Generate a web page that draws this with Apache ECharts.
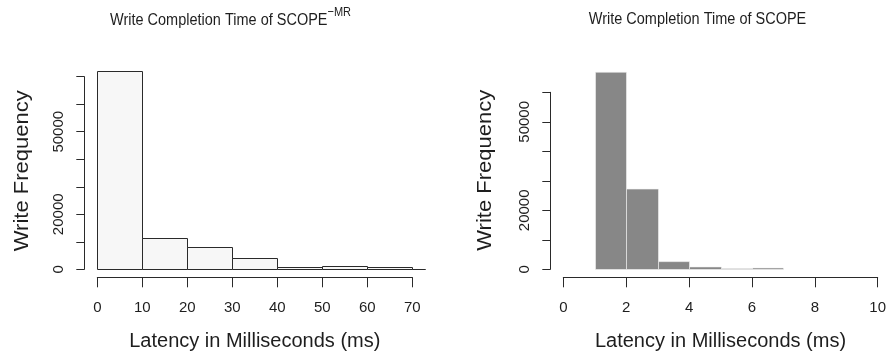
<!DOCTYPE html>
<html><head><meta charset="utf-8">
<script src="https://cdn.jsdelivr.net/npm/echarts@6/dist/echarts.min.js"></script>
<style>html,body{margin:0;padding:0;background:#fff}#c{width:889px;height:358px}</style>
</head><body><div id="c"></div>
<script>
// ---- data ----
const leftBinEdges = [0, 10, 20, 30, 40, 50, 60, 70, 80];
const leftCounts = [72000, 11500, 8000, 4200, 730, 1050, 1000, 30];
const rightBinEdges = [1, 2, 3, 4, 5, 6, 7];
const rightCounts = [66800, 27200, 2600, 800, 250, 450];
const leftXRange = [0, 70];
const leftYRange = [0, 70000];
const rightXRange = [0, 10];
const rightYRange = [0, 60000];
const leftYLabels = [0, 20000, 50000];
const rightYLabels = [0, 20000, 50000];
const leftTitle = 'Write Completion Time of SCOPE';
const leftTitleSup = '\u2212MR';
const rightTitle = 'Write Completion Time of SCOPE';
const xName = 'Latency in Milliseconds (ms)';
const yName = 'Write Frequency';

// ---- build ----
function bins(edges, counts) {
  return counts.map((c, i) => [edges[i], edges[i + 1], c]);
}
const FONT = '"Liberation Sans", Arial, Helvetica, sans-serif';
const TXT = '#1e1e1e';
const AX = '#2a2a2a';

function histItem(xlim, fill, stroke, lw, roundTop) {
  return function (params, api) {
    const x0 = api.value(0), x1 = api.value(1), v = api.value(2);
    const pad = (xlim[1] - xlim[0]) * 0.04;
    const p0 = api.coord([x0, 0]);
    const p1 = api.coord([x1, v]);
    const clipL = api.coord([xlim[0] - pad, 0])[0];
    const clipR = api.coord([xlim[1] + pad, 0])[0];
    let l = Math.max(p0[0], clipL), r = Math.min(p1[0], clipR);
    if (r <= l) return null;
    l = Math.round(l) + 0.5; r = Math.round(r) + 0.5;
    const b = Math.round(p0[1]) + 0.5;
    const t = roundTop ? Math.round(p1[1]) + 0.5 : p1[1];
    return {
      type: 'rect',
      shape: { x: l, y: t, width: r - l, height: b - t },
      style: { fill: fill, stroke: stroke, lineWidth: lw }
    };
  };
}

function xAxisCfg(idx, range, interval) {
  return {
    gridIndex: idx, type: 'value', min: range[0], max: range[1], interval: interval,
    offset: 8, splitLine: { show: false },
    axisLine: { show: true, onZero: false, lineStyle: { color: AX, width: 1 } },
    axisTick: { show: true, length: 10, lineStyle: { color: AX, width: 1 } },
    axisLabel: { show: true, fontSize: 15, color: TXT, margin: 23, fontFamily: FONT },
    name: xName, nameLocation: 'middle', nameGap: 54,
    nameTextStyle: { fontSize: 20, color: TXT, fontFamily: FONT }
  };
}
function yAxisCfg(idx, range, labels) {
  return {
    gridIndex: idx, type: 'value', min: range[0], max: range[1], interval: 10000,
    offset: 13, splitLine: { show: false },
    axisLine: { show: true, onZero: false, lineStyle: { color: AX, width: 1 } },
    axisTick: { show: true, length: 8, lineStyle: { color: AX, width: 1 } },
    axisLabel: {
      show: true, fontSize: 15, color: TXT, rotate: 90, margin: 18, fontFamily: FONT,
      showMinLabel: true, showMaxLabel: true, hideOverlap: false,
      formatter: v => labels.includes(v) ? String(v) : ''
    }
  };
}

const chart = echarts.init(document.getElementById('c'), null, { renderer: 'canvas' });
chart.setOption({
  animation: false,
  backgroundColor: '#ffffff',
  textStyle: { fontFamily: FONT },
  grid: [
    { left: 97.3, top: 76.7, width: 315, height: 192.6, containLabel: false, outerBoundsMode: 'none' },
    { left: 563.3, top: 92.3, width: 314.4, height: 177, containLabel: false, outerBoundsMode: 'none' }
  ],
  xAxis: [xAxisCfg(0, leftXRange, 10), xAxisCfg(1, rightXRange, 2)],
  yAxis: [yAxisCfg(0, leftYRange, leftYLabels), yAxisCfg(1, rightYRange, rightYLabels)],
  series: [
    {
      type: 'custom', xAxisIndex: 0, yAxisIndex: 0, clip: false,
      renderItem: histItem(leftXRange, '#f7f7f7', '#2a2a2a', 1, true),
      encode: { x: [0, 1], y: 2 },
      data: bins(leftBinEdges, leftCounts)
    },
    {
      type: 'custom', xAxisIndex: 1, yAxisIndex: 1, clip: false,
      renderItem: histItem(rightXRange, '#878787', '#f2f2f2', 0.6, false),
      encode: { x: [0, 1], y: 2 },
      data: bins(rightBinEdges, rightCounts)
    }
  ],
  graphic: [
    {
      type: 'text', x: 230.5, y: 20, scaleY: 1.18,
      style: {
        text: '{a|' + leftTitle + '}{s|' + leftTitleSup + '}',
        align: 'center', verticalAlign: 'middle',
        rich: {
          a: { fontSize: 14.5, fontFamily: FONT, fill: TXT, color: TXT },
          s: { fontSize: 11, fontFamily: FONT, fill: TXT, color: TXT, padding: [0, 0, 12, 0] }
        }
      }
    },
    {
      type: 'text', x: 697.5, y: 19, scaleY: 1.18,
      style: { text: rightTitle, align: 'center', verticalAlign: 'middle', font: '14.5px ' + FONT, fill: TXT }
    },
    {
      type: 'text', x: 22, y: 170.8, rotation: Math.PI / 2, scaleX: 1.1,
      style: { text: yName, align: 'center', verticalAlign: 'middle', font: '20px ' + FONT, fill: TXT }
    },
    {
      type: 'text', x: 485, y: 170.3, rotation: Math.PI / 2, scaleX: 1.1,
      style: { text: yName, align: 'center', verticalAlign: 'middle', font: '20px ' + FONT, fill: TXT }
    }
  ]
});
</script>
</body></html>
